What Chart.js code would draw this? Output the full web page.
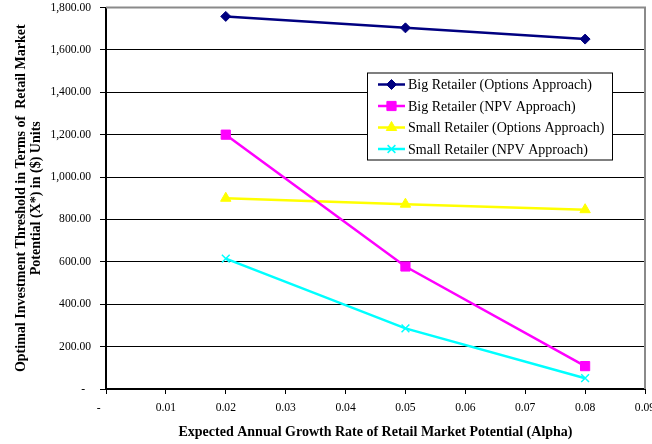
<!DOCTYPE html>
<html>
<head>
<meta charset="utf-8">
<script src="https://cdn.jsdelivr.net/npm/chart.js@4/dist/chart.umd.min.js"></script>
<style>
  html, body { margin: 0; padding: 0; overflow: hidden; background: #fff; }
  #wrap { width: 652px; height: 444px; overflow: hidden; }
</style>
</head>
<body>
<div id="wrap"><canvas id="c" width="672" height="444"></canvas></div>
<script>
// Expected annual growth rate (alpha) for each scenario
const alphaRates = [0.02, 0.05, 0.08];

// Optimal investment threshold X* per retailer / approach
const bigOptions   = [1758, 1704, 1651];
const bigNpv       = [1200, 578, 108];
const smallOptions = [900, 872, 846];
const smallNpv     = [615, 286, 51];

const seriesNames = [
  'Big Retailer (Options Approach)',
  'Big Retailer (NPV Approach)',
  'Small Retailer (Options Approach)',
  'Small Retailer (NPV Approach)'
];

const xTickValues = [0, 0.01, 0.02, 0.03, 0.04, 0.05, 0.06, 0.07, 0.08, 0.09];
const yTickValues = [0, 200, 400, 600, 800, 1000, 1200, 1400, 1600, 1800];

const xTitle = 'Expected Annual Growth Rate of Retail Market Potential (Alpha)';
const yTitle = ['Optimal Investment Threshold in Terms of  Retail Market', 'Potential (X*) in ($) Units'];

const SERIF = "'Liberation Serif', 'Times New Roman', serif";

const toPoints = vals => alphaRates.map((a, i) => ({ x: a, y: vals[i] }));

function makeSeries(label, vals, color, style, radius) {
  return {
    label,
    data: toPoints(vals),
    borderColor: color,
    backgroundColor: color,
    borderWidth: 2.5,
    pointStyle: style,
    pointRadius: radius,
    pointHoverRadius: radius,
    pointBorderWidth: style === 'crossRot' ? 1.5 : 1,
    pointBorderColor: color,
    pointBackgroundColor: color,
    tension: 0,
    fill: false
  };
}

// Grey frame on the top and right of the plot area
const plotFrame = {
  id: 'plotFrame',
  beforeDatasetsDraw(chart) {
    const { ctx, chartArea: a } = chart;
    ctx.save();
    ctx.strokeStyle = '#8a8a8a';
    ctx.lineWidth = 2;
    ctx.beginPath();
    ctx.moveTo(a.left, a.top);
    ctx.lineTo(a.right, a.top);
    ctx.lineTo(a.right, a.bottom);
    ctx.stroke();
    ctx.restore();
  }
};

// Boxed legend placed inside the plot area
const boxLegend = {
  id: 'boxLegend',
  afterDraw(chart) {
    const { ctx, chartArea: a } = chart;
    const bx = a.left + 261, by = a.top + 65, bw = 245, bh = 87;
    ctx.save();
    ctx.fillStyle = '#fff';
    ctx.fillRect(bx, by, bw, bh);
    ctx.strokeStyle = '#000';
    ctx.lineWidth = 1;
    ctx.strokeRect(bx + 0.5, by + 0.5, bw, bh);
    ctx.font = "14px " + SERIF;
    ctx.textBaseline = 'middle';
    chart.data.datasets.forEach((ds, i) => {
      const cy = by + 12 + i * 21.5;
      const x0 = bx + 11, x1 = bx + 38;
      ctx.strokeStyle = ds.borderColor;
      ctx.lineWidth = 2.5;
      ctx.beginPath();
      ctx.moveTo(x0, cy);
      ctx.lineTo(x1, cy);
      ctx.stroke();
      ctx.fillStyle = ds.backgroundColor;
      ctx.strokeStyle = ds.borderColor;
      ctx.lineWidth = ds.pointBorderWidth;
      Chart.helpers.drawPoint(ctx, {
        pointStyle: ds.pointStyle,
        radius: ds.pointRadius,
        rotation: 0,
        borderWidth: ds.pointBorderWidth
      }, (x0 + x1) / 2, cy);
      ctx.fillStyle = '#000';
      ctx.fillText(ds.label, x1 + 3, cy + 1);
    });
    ctx.restore();
  }
};

new Chart(document.getElementById('c'), {
  type: 'line',
  data: {
    datasets: [
      makeSeries(seriesNames[0], bigOptions, '#000080', 'rectRot', 5),
      makeSeries(seriesNames[1], bigNpv, '#FF00FF', 'rect', 6.5),
      makeSeries(seriesNames[2], smallOptions, '#FFFF00', 'triangle', 6),
      makeSeries(seriesNames[3], smallNpv, '#00FFFF', 'crossRot', 5.5)
    ]
  },
  options: {
    responsive: false,
    animation: false,
    events: [],
    layout: { padding: { top: 6, right: 27, bottom: 0, left: 14 } },
    plugins: {
      legend: { display: false },
      tooltip: { enabled: false }
    },
    scales: {
      x: {
        type: 'linear',
        min: 0,
        max: 0.09,
        afterBuildTicks(scale) { scale.ticks = xTickValues.map(v => ({ value: v })); },
        grid: { drawOnChartArea: false, drawTicks: true, tickLength: 5, color: '#000', lineWidth: 1 },
        border: { display: true, color: '#000', width: 2 },
        ticks: {
          color: '#000',
          padding: 7,
          maxRotation: 0,
          autoSkip: false,
          font: { family: SERIF, size: 11.6 },
          callback: v => (v === 0 ? '-     ' : Number(v).toFixed(2))
        },
        title: {
          display: true,
          text: xTitle,
          color: '#000',
          font: { family: SERIF, size: 14, weight: 'bold' },
          padding: { top: 6, bottom: 3 }
        },
        afterFit(scale) {
          scale.height = 55;
          scale.paddingLeft = 0;
          scale.paddingRight = 0;
        }
      },
      y: {
        type: 'linear',
        min: 0,
        max: 1800,
        afterBuildTicks(scale) { scale.ticks = yTickValues.map(v => ({ value: v })); },
        grid: { drawTicks: true, tickLength: 6, color: '#000', lineWidth: 1 },
        border: { display: true, color: '#000', width: 2 },
        ticks: {
          color: '#000',
          padding: 9,
          autoSkip: false,
          font: { family: SERIF, size: 11.6 },
          callback: v => (v === 0 ? '-  ' : Number(v).toLocaleString('en-US', { minimumFractionDigits: 2, maximumFractionDigits: 2 }))
        },
        title: {
          display: true,
          text: yTitle,
          color: '#000',
          font: { family: SERIF, size: 14, weight: 'bold', lineHeight: 1.07 },
          padding: { top: 0, bottom: 6 }
        },
        afterFit(scale) {
          scale.width = 92;
          scale.paddingTop = 0;
          scale.paddingBottom = 0;
        }
      }
    }
  },
  plugins: [plotFrame, boxLegend]
});
</script>
</body>
</html>
